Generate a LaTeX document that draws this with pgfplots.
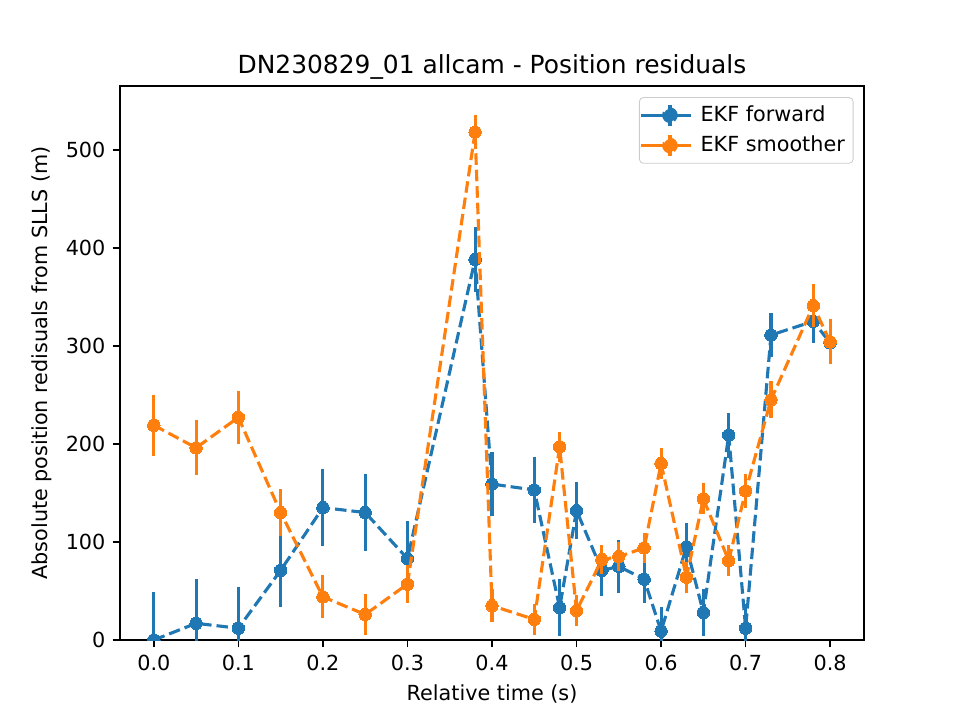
\documentclass[border=0pt]{standalone}
\usepackage{pgfplots}
\pgfplotsset{compat=1.18}
\usepackage{fontspec}
\setmainfont{DejaVu Sans}
\definecolor{C0}{HTML}{1F77B4}
\definecolor{C1}{HTML}{FF7F0E}
\pgfplotstableread{
x y e
0.00 0 49
0.05 17 45
0.10 12 42
0.15 71 37
0.20 135 39
0.25 130 39
0.30 83 38
0.38 388 33
0.40 159 33
0.45 153 34
0.48 33 29
0.50 132 29
0.53 71 26
0.55 75 27
0.58 62 24
0.60 9 25
0.63 95 24
0.65 28 24
0.68 209 23
0.70 12 25
0.73 311 22
0.78 325 22
0.80 303 22
}\forward
\pgfplotstableread{
x y e
0.00 219 31
0.05 196 28
0.10 227 27
0.15 130 24
0.20 44 22
0.25 26 21
0.30 57 19
0.38 518 17
0.40 35 17
0.45 21 16
0.48 197 15
0.50 30 16
0.53 82 15
0.55 85 15
0.58 94 15
0.60 180 16
0.63 64 16
0.65 144 16
0.68 81 16
0.70 152 17
0.73 245 19
0.78 341 22
0.80 304 23
}\smoother
\begin{document}
\begin{tikzpicture}
\path (-57.6bp,-38.4bp) rectangle (403.2bp,307.2bp);
\begin{axis}[
  at={(0,0)}, anchor=south west,
  scale only axis, width=357.12bp, height=265.92bp,
  xmin=-0.04, xmax=0.84, ymin=0, ymax=565,
  xtick={0,0.1,...,0.8}, ytick={0,100,...,500},
  xticklabel style={/pgf/number format/.cd,fixed,fixed zerofill,precision=1},
  /pgf/number format/assume math mode=true,
  tick align=outside, xtick pos=left, ytick pos=left,
  major tick length=3.5pt,
  every tick/.style={black, line width=0.8pt},
  axis line style={line width=0.8pt},
  tick label style={font=\fontsize{10}{12}\selectfont},
  label style={font=\fontsize{10}{12}\selectfont},
  xlabel={Relative time (s)},
  ylabel={Absolute position redisuals from SLLS (m)},
  title={DN230829\_01 allcam - Position residuals},
  title style={font=\fontsize{12}{14}\selectfont, yshift=-6.5pt},
  clip marker paths=true,
  legend style={at={(0.986,0.98)}, anchor=north east, draw=black!20, rounded corners=2pt,
    font=\fontsize{10}{12}\selectfont, row sep=1.5pt, inner xsep=0pt, inner ysep=2pt,
    nodes={inner xsep=4pt}},
  legend cell align=left,
  legend image code/.code={
    \path (-10pt,0pt) -- (14pt,0pt);
    \draw[#1, dash pattern=on 5.55pt off 2.4pt, mark=none] (-6pt,0pt) -- (14pt,0pt);
    \draw[#1, solid, mark=none] (4pt,-5pt) -- (4pt,5pt);
    \fill[#1] (4pt,0pt) circle (3pt);
  },
]
\addplot[C0, line width=1.5pt, dash pattern=on 5.55pt off 2.4pt,
  mark=*, mark size=3pt, mark options={solid, fill=C0, draw=C0, line width=0pt},
  error bars/.cd, y dir=both, y explicit, error mark=none,
  error bar style={solid, line width=1.5pt, C0}]
  table[x=x, y=y, y error=e] {\forward};
\addlegendentry{EKF forward}
\addplot[C1, line width=1.5pt, dash pattern=on 5.55pt off 2.4pt,
  mark=*, mark size=3pt, mark options={solid, fill=C1, draw=C1, line width=0pt},
  error bars/.cd, y dir=both, y explicit, error mark=none,
  error bar style={solid, line width=1.5pt, C1}]
  table[x=x, y=y, y error=e] {\smoother};
\addlegendentry{EKF smoother}
\end{axis}
\end{tikzpicture}
\end{document}
